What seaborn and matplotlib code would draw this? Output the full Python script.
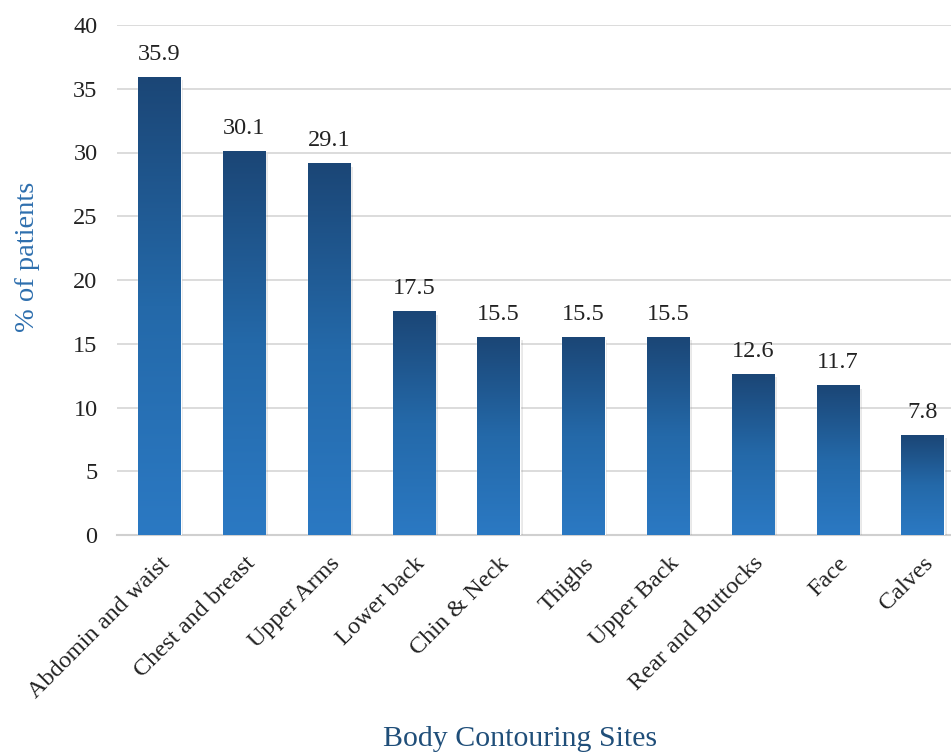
import numpy as np
import pandas as pd
import matplotlib.pyplot as plt
import seaborn as sns
import matplotlib.patheffects as pe
from matplotlib.colors import LinearSegmentedColormap

sites = ['Abdomin and waist', 'Chest and breast', 'Upper Arms', 'Lower back',
         'Chin & Neck', 'Thighs', 'Upper Back', 'Rear and Buttocks', 'Face', 'Calves']
pct = [35.9, 30.1, 29.1, 17.5, 15.5, 15.5, 15.5, 12.6, 11.7, 7.8]

df = pd.DataFrame({'site': sites, 'pct': pct})

sns.set_theme(style='white')
plt.rcParams['font.family'] = ['Liberation Serif', 'DejaVu Serif']

fig = plt.figure(figsize=(9.51, 7.55), dpi=100)
ax = fig.add_axes([117/951, 220/755, 848/951, 510/755])

sns.barplot(data=df, x='site', y='pct', width=0.5, color='#2265a5', ax=ax, zorder=3)

# vertical gradient fill, dark on top
cmap = LinearSegmentedColormap.from_list('bar', ['#2b79c3', '#2469a9', '#1b4676'])
grad = np.linspace(0, 1, 256).reshape(-1, 1)
for p in ax.patches:
    x, w, h = p.get_x(), p.get_width(), p.get_height()
    p.set_path_effects([pe.SimplePatchShadow(offset=(2, -2), alpha=0.18, shadow_rgbFace='gray'), pe.Normal()])
    ax.imshow(grad, extent=[x, x + w, 0, h], origin='lower', aspect='auto', cmap=cmap, zorder=4)

ax.bar_label(ax.containers[0], fmt='%.1f', padding=9, fontsize=17.5, color='#222222')

ax.set_xlim(-0.5, 9.5)
ax.set_ylim(0, 40)
ax.set_yticks(range(0, 41, 5))
ax.yaxis.grid(True, color='#d9d9d9', lw=1.3)
ax.set_axisbelow(True)
for s in ['top', 'right', 'left']:
    ax.spines[s].set_visible(False)
ax.spines['bottom'].set_color('#d0d0d0')
ax.spines['bottom'].set_linewidth(1.5)

ax.tick_params(axis='y', length=0, pad=14, labelsize=17.5, labelcolor='#222222')
ax.tick_params(axis='x', length=0, pad=13, labelsize=17.5, labelcolor='#222222')
plt.setp(ax.get_xticklabels(), rotation=45, ha='right', rotation_mode='anchor')

ax.set_xlabel('')
ax.set_ylabel('')
fig.text(28/951, 1 - 257/755, '% of patients', rotation=90, ha='center', va='center',
         fontsize=20.5, color='#2e6fae')
fig.text(520/951, 9/755, 'Body Contouring Sites', ha='center', va='baseline',
         fontsize=21.5, color='#1f4e79')

fig.savefig('out.png', dpi=100)
